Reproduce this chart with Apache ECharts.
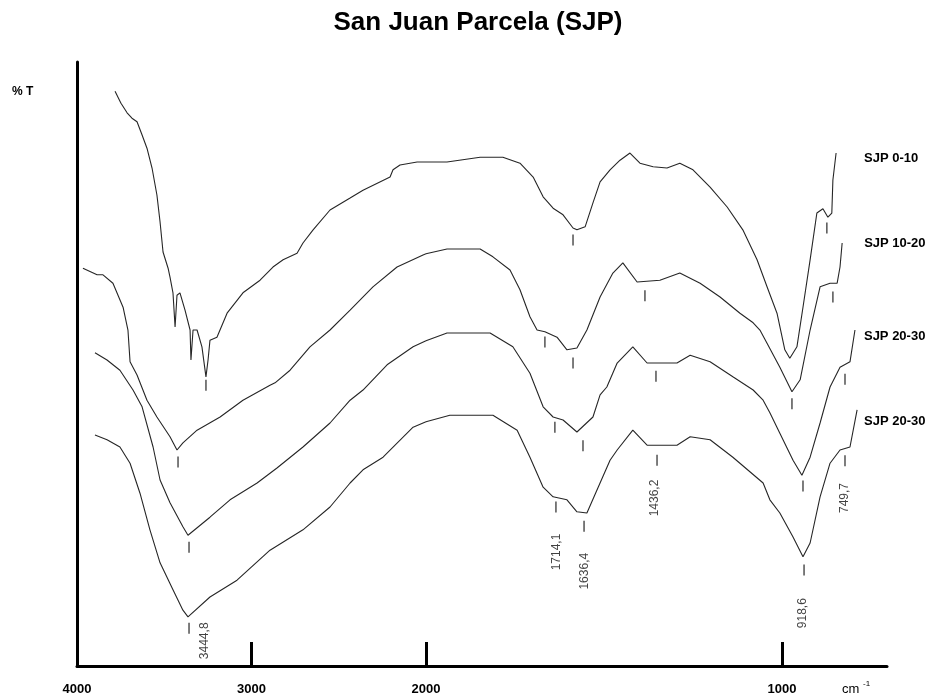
<!DOCTYPE html>
<html>
<head>
<meta charset="utf-8">
<script src="https://cdn.jsdelivr.net/npm/echarts@6/dist/echarts.min.js"></script>
<style>
html,body{margin:0;padding:0;background:#fff;}
#chart{width:930px;height:696px;}
</style>
</head>
<body>
<div id="chart"></div>
<script>
// ---------- data (wavenumber in cm-1, %T on a relative scale) ----------
const curveNames = ['SJP 0-10', 'SJP 10-20', 'SJP 20-30', 'SJP 20-30'];

const wn1 = [3782,3748,3713,3685,3656,3627,3599,3570,3542,3524,3507,3478,3467,3450,3438,3427,3410,3381,3352,3347,3335,3312,3284,3261,3249,3238,3198,3140,3049,2951,2877,2819,2739,2705,2647,2550,2435,2361,2206,2189,2149,2051,2000,1941,1848,1784,1736,1699,1671,1643,1615,1587,1576,1553,1531,1511,1483,1455,1427,1399,1362,1323,1287,1250,1202,1154,1110,1070,1042,1014,992,978,958,941,921,902,885,871,860,857,848];
const t1  = [95.8,93.8,92.2,91.3,90.7,88.5,86.3,83.0,78.5,74.0,69.0,66.3,64.8,62.2,56.5,61.8,62.2,59.3,56.0,51.0,56.0,56.0,53.2,48.2,51.0,54.3,54.8,58.8,62.2,64.3,66.5,67.7,68.8,70.5,72.7,76.0,78.0,79.3,81.5,82.7,83.5,84.0,84.0,84.0,84.8,84.8,83.8,81.5,78.2,76.3,75.2,73.0,72.7,73.2,77.2,80.7,82.7,84.3,85.5,83.8,83.2,83.0,83.8,82.7,79.8,76.5,72.7,67.7,63.2,58.8,52.7,51.3,53.2,59.8,67.7,75.5,76.2,74.8,75.5,81.0,85.5];

const wn2 = [3966,3885,3851,3794,3736,3708,3696,3656,3599,3542,3467,3427,3393,3312,3180,3049,2894,2865,2779,2665,2550,2435,2304,2166,2017,2000,1941,1848,1812,1764,1736,1708,1688,1666,1632,1604,1576,1548,1511,1475,1447,1407,1343,1287,1230,1174,1118,1081,1062,1042,1006,972,949,921,893,865,845,837,831];
const t2  = [66.3,65.2,65.2,63.8,59.8,56.0,50.7,48.5,44.3,41.5,38.2,36.0,37.2,39.3,41.5,44.3,46.8,47.2,49.3,53.2,56.0,59.3,63.2,66.5,68.5,68.7,69.5,69.5,68.2,66.0,62.7,58.2,56.0,55.7,54.8,52.7,53.0,56.0,61.5,65.5,67.2,64.0,64.3,65.5,63.8,61.5,58.8,57.2,56.0,53.8,49.8,45.7,47.7,56.0,63.2,63.8,63.8,66.5,70.5];

const wn3 = [3897,3828,3754,3679,3627,3564,3524,3467,3393,3364,3238,3123,2968,2854,2705,2550,2435,2361,2223,2074,2000,1941,1820,1756,1708,1671,1643,1615,1576,1531,1511,1492,1463,1419,1379,1295,1258,1202,1138,1081,1053,1034,1006,969,944,921,893,865,837,809,795];
const t3  = [52.2,51.0,49.3,46.0,43.2,36.5,31.0,27.2,23.2,21.8,24.8,27.7,30.5,33.0,36.5,40.5,44.3,46.0,50.2,53.2,54.2,55.5,55.5,53.2,48.8,43.2,41.5,41.0,39.0,41.5,45.2,46.5,50.5,53.2,50.5,50.5,51.8,50.7,48.2,46.0,44.3,42.2,38.8,34.3,31.8,34.8,40.5,46.5,49.8,50.7,56.0];

const wn4 = [3897,3828,3754,3696,3639,3582,3524,3450,3393,3364,3238,3083,2894,2705,2550,2435,2361,2246,2074,2000,1933,1812,1744,1708,1671,1643,1604,1576,1548,1520,1483,1463,1419,1379,1295,1258,1202,1138,1053,1034,1006,969,941,921,893,865,837,809,789];
const t4  = [38.5,37.7,36.5,33.8,28.8,22.7,17.2,12.7,9.3,8.2,11.5,14.3,19.3,22.7,26.5,30.5,32.7,34.8,39.8,40.7,41.8,41.8,39.3,34.8,29.8,28.2,27.7,25.7,25.5,29.3,34.3,36.0,39.3,36.8,36.8,38.2,37.7,34.8,30.5,27.7,25.5,21.5,18.2,20.5,28.2,33.8,36.0,36.5,42.7];

// band markers under the curves
const tickWn = [3261,1587,874, 3421,1666,1587,1385,972,857, 3358,1638,1559,1354,941,823, 3358,1635,1556,1351,938,823];
const tickT  = [46.8,71.0,73.0, 34.0,54.0,50.5,61.7,43.7,61.5, 19.8,39.8,36.7,48.3,30.0,47.8, 6.3,26.5,23.3,34.3,16.0,34.2];

// band labels
const peakText = ['3444,8','1714,1','1636,4','1436,2','918,6','749,7'];
const peakWn   = [3266,1632,1553,1357,941,823];
const peakT    = [4.2,19.0,15.8,28.0,8.8,28.0];

// axis tick labels
const xTickLabels = [4000, 3000, 2000, 1000];
const xUnit = 'cm';
const yName = '% T';
const chartTitle = 'San Juan Parcela (SJP)';

// ---------- build ----------
const FONT = '"Liberation Sans", Arial, Helvetica, sans-serif';
const curves = [[wn1,t1],[wn2,t2],[wn3,t3],[wn4,t4]];
const endOffsets = [[28,5],[22,0],[9,6],[7,12]];
const lineColor = '#262626';

const series = [];
curves.forEach(function (c, i) {
  const pts = c[0].map(function (w, k) { return [w, c[1][k]]; });
  const hi = pts.filter(function (p) { return p[0] >= 2000; });
  const lo = pts.filter(function (p) { return p[0] <= 2000; });
  series.push({
    type: 'line', name: curveNames[i], xAxisIndex: 0, yAxisIndex: 0,
    data: hi, showSymbol: false, symbol: 'none',
    lineStyle: { color: lineColor, width: 1.1 }, silent: true
  });
  series.push({
    type: 'line', name: curveNames[i], xAxisIndex: 1, yAxisIndex: 1,
    data: lo, showSymbol: false, symbol: 'none',
    lineStyle: { color: lineColor, width: 1.1 }, silent: true,
    endLabel: {
      show: true, formatter: curveNames[i], distance: 0,
      offset: endOffsets[i], color: '#000', fontFamily: FONT,
      fontSize: 13, fontWeight: 'bold', align: 'left'
    }
  });
});

const tickPts = tickWn.map(function (w, k) { return [w, tickT[k]]; });
[0, 1].forEach(function (g) {
  series.push({
    type: 'scatter', xAxisIndex: g, yAxisIndex: g, silent: true,
    data: tickPts.filter(function (p) { return g === 0 ? p[0] > 2000 : p[0] <= 2000; }),
    symbol: 'rect', symbolSize: [1.6, 11],
    itemStyle: { color: '#333' }
  });
  const labs = [];
  peakWn.forEach(function (w, k) {
    if ((g === 0 && w > 2000) || (g === 1 && w <= 2000)) {
      labs.push({ value: [w, peakT[k]], name: peakText[k] });
    }
  });
  series.push({
    type: 'scatter', xAxisIndex: g, yAxisIndex: g, silent: true,
    data: labs, symbolSize: 1, itemStyle: { color: 'rgba(0,0,0,0)' },
    label: {
      show: true, formatter: '{b}', position: 'inside', rotate: 90,
      color: '#111', fontFamily: FONT, fontSize: 12,
      align: 'center', verticalAlign: 'middle'
    }
  });
});

const axisLineStyle = { color: '#000', width: 3 };
const labelStyle = {
  color: '#000', fontFamily: FONT, fontSize: 13, fontWeight: 'bold', margin: 17,
  formatter: function (v) { return String(v); }
};

const option = {
  animation: false,
  backgroundColor: '#fff',
  grid: [
    { left: 77, top: 62, width: 349, height: 604 },
    { left: 426, top: 62, width: 461, height: 604 }
  ],
  xAxis: [
    {
      type: 'value', gridIndex: 0, min: 2000, max: 4000, interval: 1000, inverse: true,
      axisLine: { show: true, onZero: false, lineStyle: axisLineStyle },
      axisTick: { show: true, inside: true, length: 24, lineStyle: { color: '#000', width: 3 },
                  customValues: [xTickLabels[1], xTickLabels[2]] },
      axisLabel: Object.assign({ customValues: [xTickLabels[0], xTickLabels[1], xTickLabels[2]],
                                 showMinLabel: true, showMaxLabel: true }, labelStyle),
      splitLine: { show: false }
    },
    {
      type: 'value', gridIndex: 1, min: 705, max: 2000, inverse: true,
      axisLine: { show: true, onZero: false, lineStyle: axisLineStyle },
      axisTick: { show: true, inside: true, length: 24, lineStyle: { color: '#000', width: 3 },
                  customValues: [xTickLabels[3]] },
      axisLabel: Object.assign({ customValues: [xTickLabels[3]] }, labelStyle),
      splitLine: { show: false }
    }
  ],
  yAxis: [
    {
      type: 'value', gridIndex: 0, min: 0, max: 100.67,
      axisLine: { show: true, onZero: false, lineStyle: axisLineStyle },
      axisTick: { show: false }, axisLabel: { show: false }, splitLine: { show: false }
    },
    {
      type: 'value', gridIndex: 1, min: 0, max: 100.67, show: false,
      splitLine: { show: false }
    }
  ],
  graphic: [
    { type: 'text', x: 478, y: 23, silent: true,
      style: { text: chartTitle, font: 'bold 26px ' + FONT, fill: '#000',
               textAlign: 'center', textVerticalAlign: 'middle' } },
    { type: 'text', x: 12, y: 92, silent: true,
      style: { text: yName, font: 'bold 12px ' + FONT, fill: '#000',
               textAlign: 'left', textVerticalAlign: 'middle' } },
    { type: 'text', x: 842, y: 689, silent: true,
      style: { text: xUnit, font: '13px ' + FONT, fill: '#000',
               textAlign: 'left', textVerticalAlign: 'middle' } },
    { type: 'text', x: 863, y: 684, silent: true,
      style: { text: '-1', font: '8px ' + FONT, fill: '#000',
               textAlign: 'left', textVerticalAlign: 'middle' } }
  ],
  series: series
};

const chart = echarts.init(document.getElementById('chart'), null, { renderer: 'canvas' });
chart.setOption(option);
</script>
</body>
</html>
